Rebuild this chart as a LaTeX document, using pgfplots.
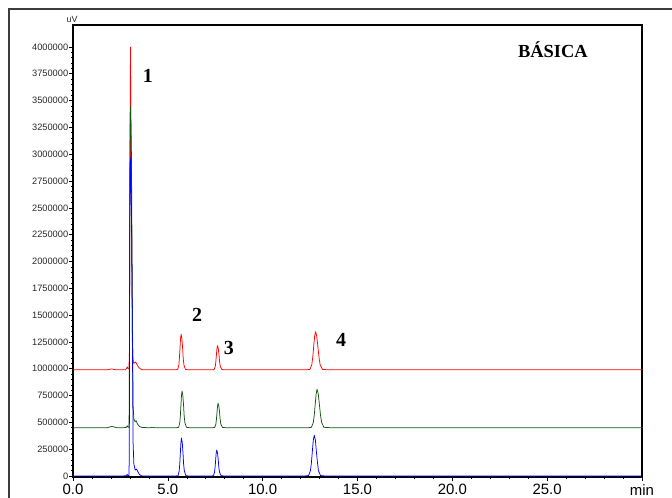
\documentclass[border=0pt]{standalone}
\usepackage{pgfplots}
\pgfplotsset{compat=1.18}
\usepackage{fontspec}
\setmainfont{Liberation Sans}
\newfontfamily\peakfont{Liberation Serif}

\definecolor{trRed}{RGB}{255,0,0}
\definecolor{trGreen}{RGB}{20,85,20}
\definecolor{trBlue}{RGB}{0,0,255}
\definecolor{frameGray}{RGB}{60,60,60}
\definecolor{labGray}{RGB}{40,40,40}

\begin{document}
\begin{tikzpicture}
\useasboundingbox (0,0) rectangle (672bp,498bp);
% outer frame
\draw[line width=2bp, frameGray] (9bp,-20bp) |- (700bp,489bp);

\begin{axis}[
  at={(73bp,21bp)}, anchor=south west,
  scale only axis, width=569bp, height=452bp,
  xmin=0, xmax=30, ymin=-9300, ymax=4205000,
  axis line style={line width=1.1bp, black},
  tick align=outside, xtick pos=bottom, ytick pos=left,
  xtick={0,5,10,15,20,25,30},
  xticklabels={0.0,5.0,10.0,15.0,20.0,25.0,min},
  minor x tick num=4,
  ytick={0,250000,500000,750000,1000000,1250000,1500000,1750000,2000000,2250000,2500000,2750000,3000000,3250000,3500000,3750000,4000000},
  yticklabels={0,250000,500000,750000,1000000,1250000,1500000,1750000,2000000,2250000,2500000,2750000,3000000,3250000,3500000,3750000,4000000},
  minor y tick num=4,
  scaled y ticks=false,
  major tick length=4bp, minor tick length=2.2bp,
  every tick/.style={black, line width=0.6bp},
  xticklabel style={font=\fontsize{15}{15}\selectfont, text=black, inner sep=1bp, yshift=-2bp},
  yticklabel style={font=\fontsize{9.3}{9.3}\selectfont, text=labGray, inner sep=0.6bp},
  clip=true,
  every axis plot/.append style={line width=0.75bp, line join=round},
]

% trace 1 (red)
\addplot[trRed] coordinates {
(0,990000) (1.8,990000) (1.95,996000) (2.05,998000) (2.2,992000) (2.5,990000)
(2.75,991000) (2.82,1000000) (2.86,1018000) (2.90,1000000) (2.95,998000)
(2.98,1200000) (3.00,3000000) (3.03,4000000) (3.06,3000000) (3.10,2000000)
(3.13,1250000) (3.16,1090000) (3.20,1050000) (3.25,1055000) (3.30,1063000)
(3.36,1045000) (3.45,1015000) (3.55,1000000) (3.65,991000) (4.0,990000)
(5.40,990000) (5.52,993600) (5.58,1034700) (5.61,1097600) (5.64,1190900)
(5.67,1281900) (5.70,1321000) (5.74,1281900) (5.78,1190900) (5.81,1097600)
(5.85,1034700) (5.93,993600) (6.10,990000)
(7.30,990000) (7.44,992500) (7.50,1020400) (7.53,1063100) (7.56,1126600)
(7.59,1188500) (7.62,1215000) (7.66,1188500) (7.70,1126600) (7.73,1063100)
(7.77,1020400) (7.85,992500) (8.10,990000)
(12.30,990000) (12.49,993900) (12.59,1038100) (12.64,1105700) (12.69,1206100)
(12.74,1304000) (12.79,1346000) (12.85,1304000) (12.91,1206100) (12.97,1105700)
(13.03,1038100) (13.15,993900) (13.50,990000)
(30,990000)
};

% trace 2 (green)
\addplot[trGreen] coordinates {
(0,450000) (1.8,450000) (1.95,458000) (2.05,462000) (2.15,458000) (2.3,451000)
(2.6,450000) (2.8,452000) (2.86,468000) (2.90,455000) (2.95,455000)
(2.97,700000) (2.98,2000000) (3.00,3000000) (3.04,3450000) (3.08,3000000)
(3.12,1900000) (3.15,1000000) (3.17,650000) (3.21,530000) (3.27,505000)
(3.33,515000) (3.40,485000) (3.50,462000) (3.65,452000) (4.10,450000)
(4.20,455000) (4.30,450000)
(5.45,450000) (5.57,453800) (5.63,496300) (5.66,561500) (5.69,658200)
(5.72,752500) (5.75,793000) (5.79,752500) (5.83,658200) (5.86,561500)
(5.90,496300) (5.98,453800) (6.15,450000)
(7.35,450000) (7.47,452500) (7.53,480800) (7.56,524100) (7.59,588400)
(7.62,651100) (7.65,678000) (7.69,651100) (7.73,588400) (7.76,524100)
(7.80,480800) (7.88,452500) (8.10,450000)
(12.40,450000) (12.57,453900) (12.67,498500) (12.72,566700) (12.77,667900)
(12.82,766600) (12.87,809000) (12.93,766600) (12.99,667900) (13.05,566700)
(13.11,498500) (13.23,453900) (13.60,450000)
(30,450000)
};

% trace 3 (blue)
\addplot[trBlue] coordinates {
(0,0) (2.5,0) (2.80,2000) (2.86,15000) (2.90,3000) (2.95,5000)
(2.97,200000) (2.98,1500000) (3.00,2500000) (3.04,2970000) (3.08,2500000)
(3.12,1600000) (3.15,800000) (3.17,300000) (3.21,110000) (3.28,55000)
(3.35,65000) (3.42,40000) (3.50,15000) (3.60,3000) (3.70,0)
(5.42,0) (5.54,3900) (5.60,47800) (5.63,115100) (5.66,214900)
(5.69,312200) (5.72,354000) (5.76,312200) (5.80,214900) (5.83,115100)
(5.87,47800) (5.95,3900) (6.10,0)
(7.28,0) (7.40,2700) (7.46,32800) (7.49,79000) (7.52,147500)
(7.55,214300) (7.58,243000) (7.62,214300) (7.66,147500) (7.69,79000)
(7.73,32800) (7.81,2700) (8.00,0)
(12.20,0) (12.42,4200) (12.52,51300) (12.57,123500) (12.62,230700)
(12.67,335200) (12.72,380000) (12.78,335200) (12.83,230700) (12.89,123500)
(12.94,51300) (13.05,4200) (13.30,0)
(30,0)
};

% peak numbers and panel title
\begin{scope}[every node/.style={anchor=base, inner sep=0pt, font=\peakfont\bfseries\fontsize{20}{20}\selectfont}]
\node at (axis cs:3.95,3672000) {1};
\node at (axis cs:6.54,1436000) {2};
\node at (axis cs:8.22,1137500) {3};
\node at (axis cs:14.13,1203000) {4};
\node[font=\peakfont\bfseries\fontsize{18.5}{18.5}\selectfont] at (axis cs:25.30,3900000) {BÁSICA};
\end{scope}
\end{axis}

% unit of the signal axis
\node[anchor=base, inner sep=0pt, font=\fontsize{9}{9}\selectfont, text=labGray] at (72bp,475bp) {uV};
\end{tikzpicture}
\end{document}
